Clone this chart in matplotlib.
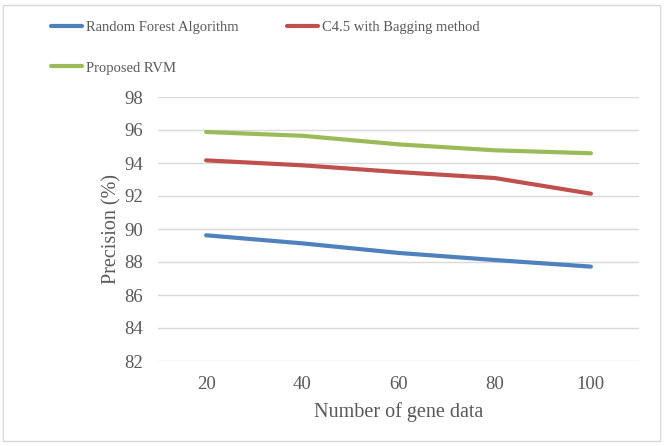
import matplotlib.pyplot as plt
from matplotlib.patches import Rectangle

gene_counts = ["20", "40", "60", "80", "100"]
random_forest = [89.62, 89.13, 88.55, 88.12, 87.72]
c45_bagging = [94.16, 93.86, 93.45, 93.09, 92.14]
proposed_rvm = [95.88, 95.65, 95.13, 94.77, 94.59]

series = [
    ("Random Forest Algorithm", random_forest, "#4F81BD"),
    ("C4.5 with Bagging method", c45_bagging, "#C0504D"),
    ("Proposed RVM", proposed_rvm, "#9BBB59"),
]

TEXT = "#595959"
plt.rcParams["font.family"] = ["Liberation Serif", "DejaVu Serif"]

fig = plt.figure(figsize=(6.64, 4.46), dpi=100)
W, H = 664, 446
ax = fig.add_axes([158 / W, 1 - 361 / H, 481 / W, 264 / H])

x = range(len(gene_counts))
lines = {}
for label, values, color in series:
    (ln,) = ax.plot(x, values, color=color, lw=3, solid_capstyle="round", label=label)
    lines[label] = ln

ax.set_xlim(-0.5, len(gene_counts) - 0.5)
ax.set_ylim(82, 98)
ax.set_yticks(range(82, 99, 2))
ax.set_xticks(list(x))
ax.set_xticklabels(gene_counts)
ax.grid(axis="y", color="#D9D9D9", lw=1)
ax.set_axisbelow(True)
for s in ax.spines.values():
    s.set_visible(False)
ax.tick_params(length=0, colors=TEXT, labelsize=13.5)
ax.tick_params(axis="y", pad=11)
ax.tick_params(axis="x", pad=11)

ax.set_xlabel("Number of gene data", color=TEXT, fontsize=14.5, labelpad=6)
ax.set_ylabel("Precision (%)", color=TEXT, fontsize=14.5, labelpad=2)

# legend entries are laid out column-first, so reorder to get two per row
order = ["Random Forest Algorithm", "Proposed RVM", "C4.5 with Bagging method"]
fig.legend(
    [lines[k] for k in order], order,
    ncol=2, loc="upper left", bbox_to_anchor=(38 / W, 1 - 8 / H),
    frameon=False, handlelength=2.15, handletextpad=0.25,
    columnspacing=3.3, labelspacing=1.85, fontsize=10.5, labelcolor=TEXT,
)

fig.patches.append(Rectangle((3 / W, 5 / H), 657 / W, 436 / H, transform=fig.transFigure,
                             fill=False, edgecolor="#D9D9D9", lw=1))

fig.savefig("out.png", dpi=100)
